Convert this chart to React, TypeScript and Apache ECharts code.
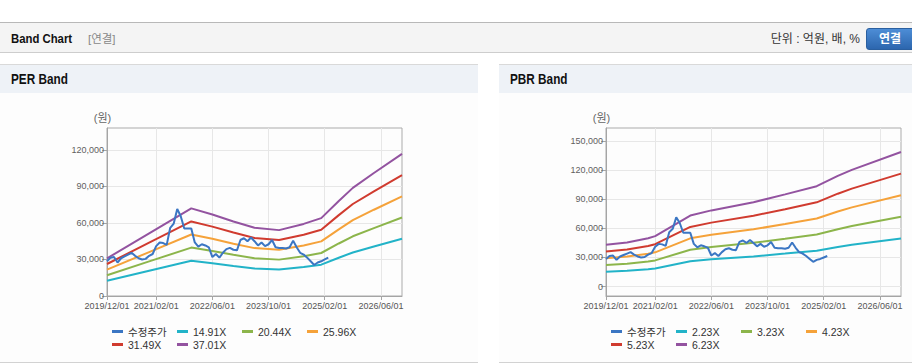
import React, { useEffect, useRef } from 'react';
import * as echarts from 'echarts';

// ---------- data ----------
const xMin = '2019-12-01';
const xMax = '2026-12-01';
const xTickDates = ['2019-12-01', '2021-02-01', '2022-06-01', '2023-10-01', '2025-02-01', '2026-06-01'];
const xTickLabels = ['2019/12/01', '2021/02/01', '2022/06/01', '2023/10/01', '2025/02/01', '2026/06/01'];
const perYTicks = [0, 30000, 60000, 90000, 120000];
const pbrYTicks = [0, 30000, 60000, 90000, 120000, 150000];

const priceName = '수정주가';
const perNames = ['14.91X', '20.44X', '25.96X', '31.49X', '37.01X'];
const pbrNames = ['2.23X', '3.23X', '4.23X', '5.23X', '6.23X'];

// 수정주가 (monthly)
const price: [string, number][] = [
  ['2019-12-01', 28500], ['2020-01-01', 31500], ['2020-02-01', 32000], ['2020-03-01', 27500],
  ['2020-04-01', 31000], ['2020-05-01', 32500], ['2020-06-01', 34000], ['2020-07-01', 35500],
  ['2020-08-01', 33000], ['2020-09-01', 31000], ['2020-10-01', 30000], ['2020-11-01', 30500],
  ['2020-12-01', 33000], ['2021-01-01', 34500], ['2021-02-01', 41000], ['2021-03-01', 44000],
  ['2021-04-01', 43500], ['2021-05-01', 42000], ['2021-06-01', 56000], ['2021-07-01', 59500],
  ['2021-08-01', 71500], ['2021-09-01', 65500], ['2021-10-01', 55500], ['2021-11-01', 55500],
  ['2021-12-01', 55500], ['2022-01-01', 44000], ['2022-02-01', 40500], ['2022-03-01', 42500],
  ['2022-04-01', 41500], ['2022-05-01', 40000], ['2022-06-01', 32000], ['2022-07-01', 34500],
  ['2022-08-01', 31500], ['2022-09-01', 35500], ['2022-10-01', 38500], ['2022-11-01', 39500],
  ['2022-12-01', 38000], ['2023-01-01', 37500], ['2023-02-01', 46000], ['2023-03-01', 47500],
  ['2023-04-01', 45000], ['2023-05-01', 48000], ['2023-06-01', 45000], ['2023-07-01', 41500],
  ['2023-08-01', 44000], ['2023-09-01', 41000], ['2023-10-01', 42500], ['2023-11-01', 46000],
  ['2023-12-01', 40000], ['2024-01-01', 39500], ['2024-02-01', 39500], ['2024-03-01', 39000],
  ['2024-04-01', 40000], ['2024-05-01', 45500], ['2024-06-01', 40000], ['2024-07-01', 35500],
  ['2024-08-01', 34000], ['2024-09-01', 31500], ['2024-10-01', 28500], ['2024-11-01', 25500],
  ['2024-12-01', 27500], ['2025-01-01', 28500], ['2025-02-01', 30000], ['2025-03-01', 31500],
];

// PER band knots
const perDates = ['2019-12-01', '2020-12-01', '2021-12-01', '2022-06-01', '2022-12-01', '2023-06-01',
  '2024-01-01', '2024-08-01', '2025-01-01', '2025-06-01', '2025-10-01', '2026-04-01', '2026-12-01'];
const per1491 = [12450, 20720, 29000, 26990, 24680, 22590, 21800, 23860, 25760, 31460, 35780, 40700, 47040];
const per2044 = [17070, 28410, 39760, 37000, 33830, 30970, 29880, 32700, 35320, 43130, 49060, 55800, 64490];
const per2596 = [21680, 36080, 50490, 46990, 42960, 39330, 37950, 41540, 44860, 54780, 62300, 70870, 81910];
const per3149 = [26290, 43770, 61250, 57000, 52110, 47710, 46040, 50380, 54410, 66440, 75580, 85970, 99350];
const per3701 = [30900, 51440, 71980, 66990, 61250, 56070, 54110, 59220, 63950, 78080, 88820, 101040, 116770];

// PBR band knots
const pbrDates = ['2019-12-01', '2020-06-01', '2020-12-01', '2021-02-01', '2021-12-01', '2022-06-01',
  '2023-06-01', '2024-03-01', '2024-12-01', '2025-06-01', '2025-10-01', '2026-12-01'];
const pbr223 = [15390, 16280, 17840, 18620, 26200, 28100, 31110, 34010, 37020, 40810, 43040, 49620];
const pbr323 = [22290, 23580, 25840, 26970, 37950, 40700, 45060, 49260, 53620, 59110, 62340, 71870];
const pbr423 = [29190, 30880, 33840, 35320, 49700, 53300, 59010, 64510, 70220, 77410, 81640, 94120];
const pbr523 = [36090, 38180, 41840, 43670, 61450, 65900, 72960, 79760, 86820, 95710, 100940, 116370];
const pbr623 = [42990, 45480, 49840, 52020, 73200, 78500, 86910, 95010, 103420, 114010, 120240, 138620];

// ---------- helpers ----------
// month position of a 'YYYY-MM-DD' date on the x scale (months counted from xMin)
const monthPos = (s: string) => {
  const [y, m] = s.split('-').map(Number);
  const [y0, m0] = xMin.split('-').map(Number);
  return (y - y0) * 12 + (m - m0);
};

const colors = ['#3b76c3', '#22b3c8', '#8cb54b', '#f5a23a', '#d03b2f', '#9353a0'];
const numFont = "'Liberation Sans', Arial, 'Noto Sans CJK KR', sans-serif";
const krFont = "'Liberation Sans', 'Noto Sans CJK KR', sans-serif";

const fmtNum = (v: number) => Math.round(v).toLocaleString('en-US');
const xTickPos = xTickDates.map(monthPos);
const fmtX = (v: number) => {
  const k = xTickPos.indexOf(Math.round(v));
  return k >= 0 ? xTickLabels[k] : '';
};

function makeAxes(i: number, left: number, yMin: number, yMax: number, yTicks: number[]) {
  const grid = {
    left, top: 128, width: 295, height: 168,
    show: true, borderColor: '#ababab', borderWidth: 1, backgroundColor: 'transparent',
  };
  const xAxis = {
    type: 'value', gridIndex: i, min: monthPos(xMin), max: monthPos(xMax),
    axisLine: { show: true, onZero: false, lineStyle: { color: '#a5a5a5', width: 1 } },
    axisTick: { show: true, length: 4, customValues: xTickPos, lineStyle: { color: '#a5a5a5' } },
    axisLabel: {
      customValues: xTickPos, formatter: (v: number) => fmtX(v),
      showMinLabel: true, showMaxLabel: true, hideOverlap: false,
      color: '#555', fontSize: 9, fontFamily: numFont, margin: 5,
    },
    splitLine: { show: true, lineStyle: { color: '#e7e7e7', width: 1 } },
  };
  const yAxis = {
    type: 'value', gridIndex: i, min: yMin, max: yMax,
    name: '(원)', nameLocation: 'end', nameGap: 5,
    nameTextStyle: { color: '#666', fontSize: 11, fontFamily: krFont, padding: [0, 9, 0, 0] },
    axisLine: { show: true, lineStyle: { color: '#a5a5a5', width: 1 } },
    axisTick: { show: true, length: 5, customValues: yTicks, lineStyle: { color: '#a5a5a5' } },
    axisLabel: {
      customValues: yTicks, formatter: (v: number) => fmtNum(v),
      showMinLabel: true, hideOverlap: false,
      color: '#5f5f5f', fontSize: 9, fontFamily: numFont, margin: 3,
    },
    splitLine: { show: true, lineStyle: { color: '#e7e7e7', width: 1 } },
  };
  return { grid, xAxis, yAxis };
}

function lineSeries(name: string, data: any[], idx: number, color: string, z: number) {
  return {
    type: 'line', name, data, xAxisIndex: idx, yAxisIndex: idx,
    showSymbol: false, symbol: 'none', z,
    lineStyle: { color, width: 2 }, itemStyle: { color },
    emphasis: { disabled: true },
  };
}

function legendFor(left: number, names: string[]) {
  return {
    left, top: 320, width: 262, orient: 'horizontal',
    icon: 'rect', itemWidth: 11, itemHeight: 3, itemGap: 0,
    formatter: (name: string) => `{a|${name}}`,
    textStyle: {
      color: '#333', fontSize: 10.5, fontFamily: krFont,
      rich: { a: { width: 49, height: 13, lineHeight: 13, color: '#333', fontSize: 10.5, fontFamily: krFont } },
    },
    data: [priceName, ...names],
    selectedMode: false,
  };
}

export default function App() {
  const ref = useRef<HTMLDivElement>(null);

  useEffect(() => {
    if (!ref.current) return;
    const chart = echarts.init(ref.current, undefined, { renderer: 'svg' });
    const a = makeAxes(0, 107, 0, 138000, perYTicks);
    const b = makeAxes(1, 606, -9700, 163400, pbrYTicks);
    const pair = (dates: string[], vals: number[]) => dates.map((d, k) => [monthPos(d), vals[k]]);
    const priceData = price.map(([d, v]) => [monthPos(d), v]);
    const perBands = [per1491, per2044, per2596, per3149, per3701];
    const pbrBands = [pbr223, pbr323, pbr423, pbr523, pbr623];
    const series: any[] = [];
    perBands.forEach((vals, k) => series.push(lineSeries(perNames[k], pair(perDates, vals), 0, colors[k + 1], 2)));
    series.push(lineSeries(priceName, priceData, 0, colors[0], 3));
    pbrBands.forEach((vals, k) => series.push(lineSeries(pbrNames[k], pair(pbrDates, vals), 1, colors[k + 1], 2)));
    series.push(lineSeries(priceName, priceData, 1, colors[0], 3));

    chart.setOption({
      animation: false,
      grid: [a.grid, b.grid],
      xAxis: [a.xAxis, b.xAxis],
      yAxis: [a.yAxis, b.yAxis],
      legend: [legendFor(107, perNames), legendFor(606, pbrNames)],
      series,
    });
    return () => chart.dispose();
  }, []);

  const condensed: React.CSSProperties = {
    display: 'inline-block', transform: 'scaleX(0.84)', transformOrigin: 'left center',
  };
  const panelHeaderText: React.CSSProperties = {
    position: 'absolute', left: 11, top: 0, lineHeight: '28px',
    fontFamily: numFont, fontWeight: 'bold', fontSize: 14, color: '#111', ...condensed,
  };

  return (
    <div style={{ position: 'absolute', left: 0, top: 0, width: 912, height: 364, background: '#fff', overflow: 'hidden' }}>
      {/* top header bar */}
      <div style={{
        position: 'absolute', left: 0, top: 22, width: 912, height: 29,
        background: '#f4f4f4', borderTop: '1px solid #b8b8b8', borderBottom: '1px solid #cdcdcd',
      }}>
        <span style={{ position: 'absolute', left: 11, top: 1, lineHeight: '30px', fontFamily: numFont, fontWeight: 'bold', fontSize: 13.5, color: '#111', ...condensed }}>Band Chart</span>
        <span style={{ position: 'absolute', left: 88, top: 1, lineHeight: '30px', fontFamily: krFont, fontSize: 11.5, color: '#888' }}>[연결]</span>
        <span style={{ position: 'absolute', right: 52, top: 1, lineHeight: '30px', fontFamily: krFont, fontSize: 12, color: '#333' }}>단위 : 억원, 배, %</span>
        <div style={{
          position: 'absolute', left: 866, top: 5, width: 50, height: 22, borderRadius: 3,
          background: 'linear-gradient(#4d8dd6, #2c66ae)', border: '1px solid #2a5f9f', boxSizing: 'border-box',
        }}>
          <span style={{ position: 'absolute', left: 0, width: 46, textAlign: 'center', lineHeight: '20px', fontFamily: krFont, fontWeight: 'bold', fontSize: 12, color: '#fff' }}>연결</span>
        </div>
      </div>

      {/* PER panel */}
      <div style={{
        position: 'absolute', left: 0, top: 64, width: 478, height: 297,
        background: '#fdfdfd', borderTop: '1px solid #d9d9d9', borderBottom: '1px solid #d2d2d2',
      }}>
        <div style={{ position: 'absolute', left: 0, top: 0, width: 478, height: 28, background: '#eef2f7' }}>
          <span style={panelHeaderText}>PER Band</span>
        </div>
      </div>

      {/* PBR panel */}
      <div style={{
        position: 'absolute', left: 499, top: 64, width: 413, height: 297,
        background: '#fdfdfd', borderTop: '1px solid #d9d9d9', borderBottom: '1px solid #d2d2d2',
      }}>
        <div style={{ position: 'absolute', left: 0, top: 0, width: 413, height: 28, background: '#eef2f7' }}>
          <span style={panelHeaderText}>PBR Band</span>
        </div>
      </div>

      <div ref={ref} style={{ position: 'absolute', left: 0, top: 0, width: 912, height: 364 }} />
    </div>
  );
}
